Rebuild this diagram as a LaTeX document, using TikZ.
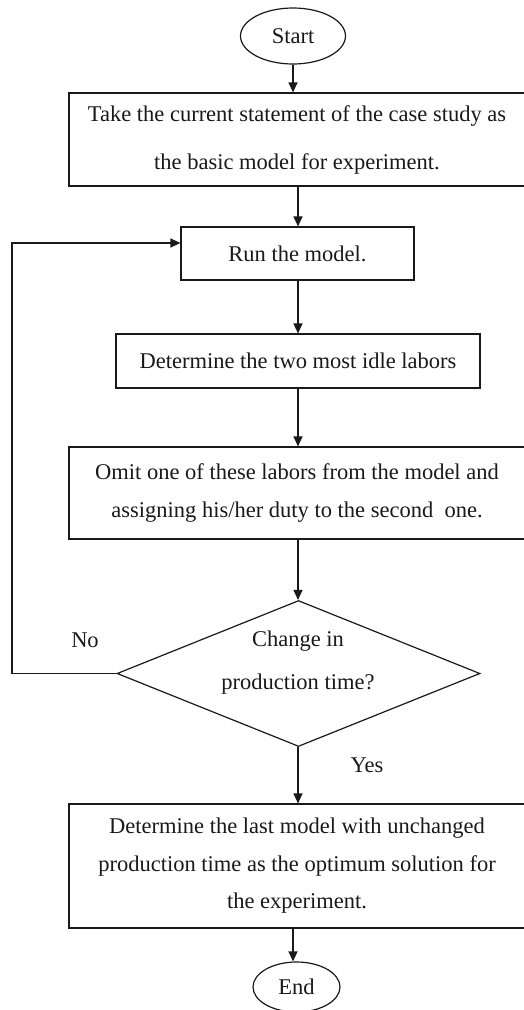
\documentclass[tikz,border=0pt]{standalone}
\usepackage{fontspec}
\setmainfont{Liberation Serif}
\usetikzlibrary{shapes.geometric,arrows.meta}
\tikzset{
  procbox/.style={draw, line width=1.2pt, rectangle, inner sep=0pt, align=center, font=\fontsize{22.5}{38}\selectfont},
  term/.style={draw, line width=1.2pt, ellipse, inner sep=0pt, font=\fontsize{22.5}{27}\selectfont},
  decis/.style={draw, line width=1.2pt, diamond, inner sep=0pt, aspect=2.49, minimum width=363pt, minimum height=146pt},
  lbl/.style={font=\fontsize{22.5}{43}\selectfont, align=center, inner sep=0pt},
  flow/.style={line width=1.2pt, -{Triangle[width=9pt,length=10pt]}},
  conn/.style={line width=1.2pt}
}
\begin{document}
\begin{tikzpicture}[x=1pt,y=-1pt, color={black!90}]
\useasboundingbox (0,0) rectangle (524,1010);
\node[term, minimum width=105pt, minimum height=56pt] (start) at (293,36) {Start};
\node[procbox, minimum width=456pt, minimum height=93pt, font=\fontsize{22.5}{48}\selectfont] (b1) at (297,139.5)
  {Take the current statement of the case study as\\the basic model for experiment.};
\node[procbox, minimum width=233pt, minimum height=53pt] (b2) at (297.5,253.5) {Run the model.};
\node[procbox, minimum width=364pt, minimum height=54pt] (b3) at (298,361) {Determine the two most idle labors};
\node[procbox, minimum width=456pt, minimum height=92pt] (b4) at (297,493)
  {Omit one of these labors from the model and\\assigning his/her duty to the second~ one.};
\node[decis] (dia) at (298.5,673.5) {};
\node[lbl] (diatext) at (298,663) {Change in\\production time?};
\node[procbox, minimum width=456pt, minimum height=124pt, font=\fontsize{22.5}{37.5}\selectfont] (b5) at (297,866)
  {Determine the last model with unchanged\\production time as the optimum solution for\\the experiment.};
\node[term, minimum width=87pt, minimum height=50pt] (fin) at (296.5,987) {End};
\node[lbl] (no) at (85,640) {No};
\node[lbl] (yes) at (367,765) {Yes};
\coordinate (lx) at (12,243);
\draw[flow] (start.south) -- (start.south |- b1.north);
\draw[flow] (b1.south -| b3.north) -- (b2.north -| b3.north);
\draw[flow] (b2.south -| b3.north) -- (b3.north);
\draw[flow] (b3.south -| b3.north) -- (b4.north -| b3.north);
\draw[flow] (b4.south -| b3.north) -- (dia.north -| b3.north);
\draw[flow] (dia.south -| b3.north) -- (b5.north -| b3.north);
\draw[flow] (b5.south -| 293,0) -- (fin.north -| 293,0);
\draw[flow] (dia.west) -| (lx) -- (lx -| b2.west);
\end{tikzpicture}
\end{document}
